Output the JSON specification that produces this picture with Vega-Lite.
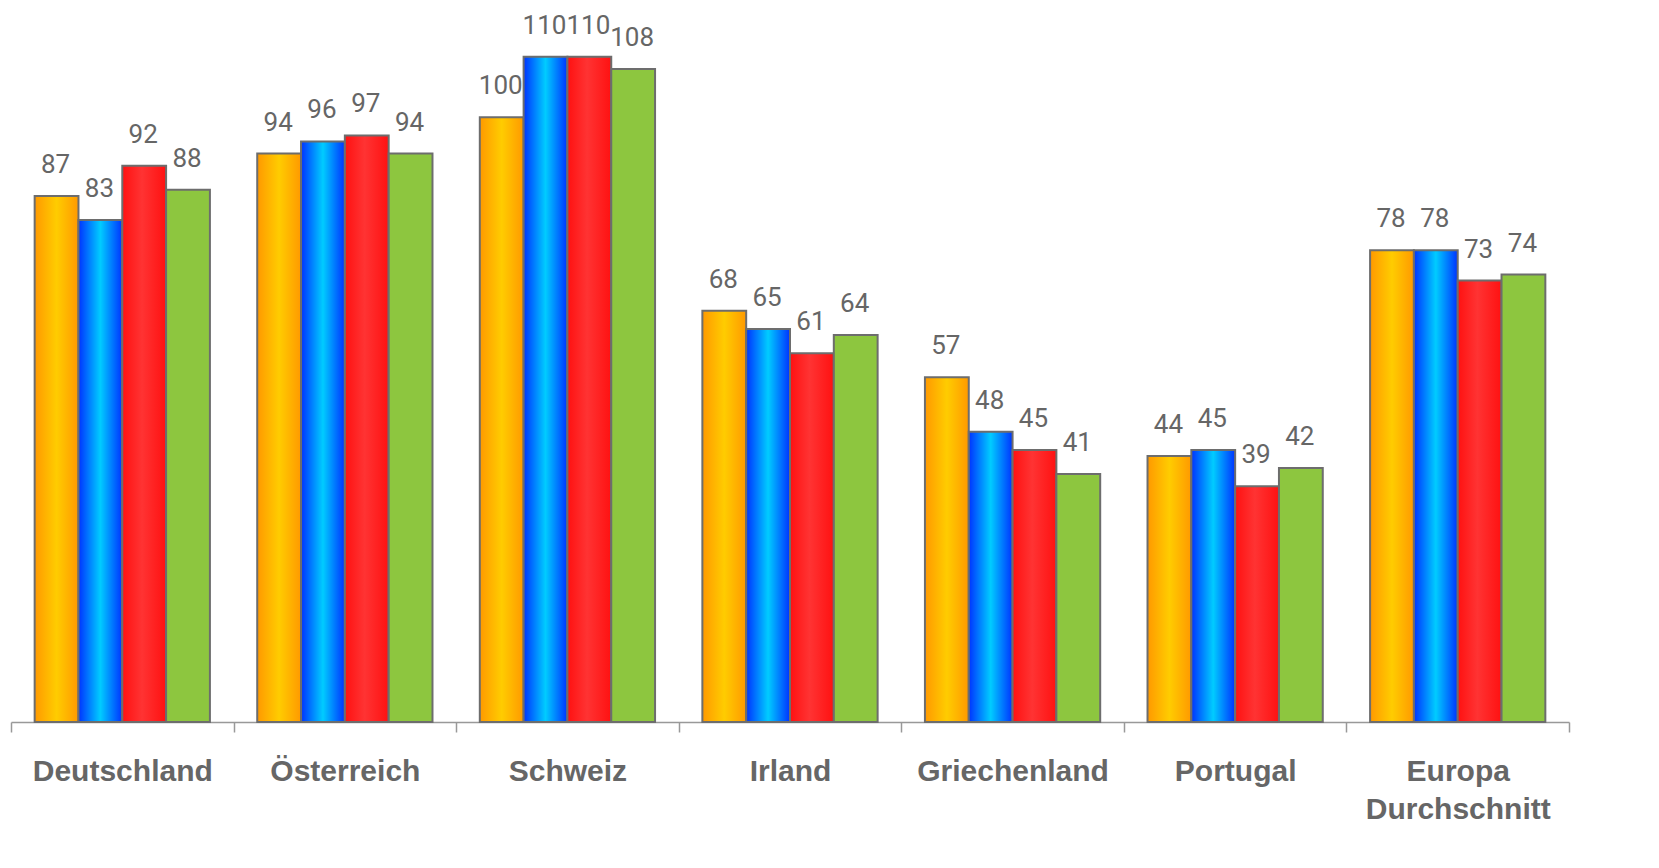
{
  "$schema": "https://vega.github.io/schema/vega-lite/v6.json",
  "autosize": {"type": "none"},
  "width": 1558,
  "height": 722,
  "padding": {"left": 11, "top": 0, "right": 90, "bottom": 146},
  "background": "white",
  "config": {"view": {"stroke": null}},
  "data": {"values": [
    {"land": "Deutschland", "s": "a", "v": 87},
    {"land": "Deutschland", "s": "b", "v": 83},
    {"land": "Deutschland", "s": "c", "v": 92},
    {"land": "Deutschland", "s": "d", "v": 88},
    {"land": "Österreich", "s": "a", "v": 94},
    {"land": "Österreich", "s": "b", "v": 96},
    {"land": "Österreich", "s": "c", "v": 97},
    {"land": "Österreich", "s": "d", "v": 94},
    {"land": "Schweiz", "s": "a", "v": 100},
    {"land": "Schweiz", "s": "b", "v": 110},
    {"land": "Schweiz", "s": "c", "v": 110},
    {"land": "Schweiz", "s": "d", "v": 108},
    {"land": "Irland", "s": "a", "v": 68},
    {"land": "Irland", "s": "b", "v": 65},
    {"land": "Irland", "s": "c", "v": 61},
    {"land": "Irland", "s": "d", "v": 64},
    {"land": "Griechenland", "s": "a", "v": 57},
    {"land": "Griechenland", "s": "b", "v": 48},
    {"land": "Griechenland", "s": "c", "v": 45},
    {"land": "Griechenland", "s": "d", "v": 41},
    {"land": "Portugal", "s": "a", "v": 44},
    {"land": "Portugal", "s": "b", "v": 45},
    {"land": "Portugal", "s": "c", "v": 39},
    {"land": "Portugal", "s": "d", "v": 42},
    {"land": "Europa Durchschnitt", "s": "a", "v": 78},
    {"land": "Europa Durchschnitt", "s": "b", "v": 78},
    {"land": "Europa Durchschnitt", "s": "c", "v": 73},
    {"land": "Europa Durchschnitt", "s": "d", "v": 74}
  ]},
  "encoding": {
    "x": {
      "field": "land", "type": "nominal", "sort": null,
      "scale": {"paddingInner": 0, "paddingOuter": 0},
      "axis": {
        "title": null, "labelAngle": 0, "labelLimit": 0,
        "labelFont": "Liberation Sans", "labelFontWeight": "bold", "labelFontSize": 30,
        "labelColor": "#666666", "labelPadding": 24, "labelLineHeight": 38,
        "labelExpr": "datum.label == 'Europa Durchschnitt' ? ['Europa', 'Durchschnitt'] : datum.label",
        "domainColor": "#999999", "domainWidth": 1.5,
        "tickColor": "#999999", "tickWidth": 1.5, "tickSize": 10, "tickBand": "extent"
      }
    },
    "xOffset": {"field": "s", "type": "nominal", "scale": {"domain": ["a", "b", "c", "d"], "paddingInner": 0, "paddingOuter": 0.54}},
    "y": {"field": "v", "type": "quantitative", "scale": {"domain": [0, 119.4], "nice": false, "zero": true}, "axis": null}
  },
  "layer": [
    {
      "transform": [{"filter": "datum.s == 'a'"}],
      "mark": {"type": "bar", "stroke": "#6d6d6d", "strokeWidth": 2,
        "fill": {"gradient": "linear", "x1": 0, "y1": 0, "x2": 1, "y2": 0,
          "stops": [{"offset": 0, "color": "#ff9900"}, {"offset": 0.5, "color": "#ffcc00"}, {"offset": 1, "color": "#ff9900"}]}}
    },
    {
      "transform": [{"filter": "datum.s == 'b'"}],
      "mark": {"type": "bar", "stroke": "#6d6d6d", "strokeWidth": 2,
        "fill": {"gradient": "linear", "x1": 0, "y1": 0, "x2": 1, "y2": 0,
          "stops": [{"offset": 0, "color": "#0033ff"}, {"offset": 0.5, "color": "#00ccff"}, {"offset": 1, "color": "#0033ff"}]}}
    },
    {
      "transform": [{"filter": "datum.s == 'c'"}],
      "mark": {"type": "bar", "stroke": "#6d6d6d", "strokeWidth": 2,
        "fill": {"gradient": "linear", "x1": 0, "y1": 0, "x2": 1, "y2": 0,
          "stops": [{"offset": 0, "color": "#ff1111"}, {"offset": 0.45, "color": "#ff3333"}, {"offset": 1, "color": "#ff1111"}]}}
    },
    {
      "transform": [{"filter": "datum.s == 'd'"}],
      "mark": {"type": "bar", "stroke": "#6d6d6d", "strokeWidth": 2, "fill": "#8dc63f"}
    },
    {
      "mark": {"type": "text", "font": "Roboto", "fontSize": 26, "fill": "#666666",
        "baseline": "bottom", "align": "center", "dy": -18, "dx": -1},
      "encoding": {"text": {"field": "v", "type": "quantitative"}}
    }
  ]
}
